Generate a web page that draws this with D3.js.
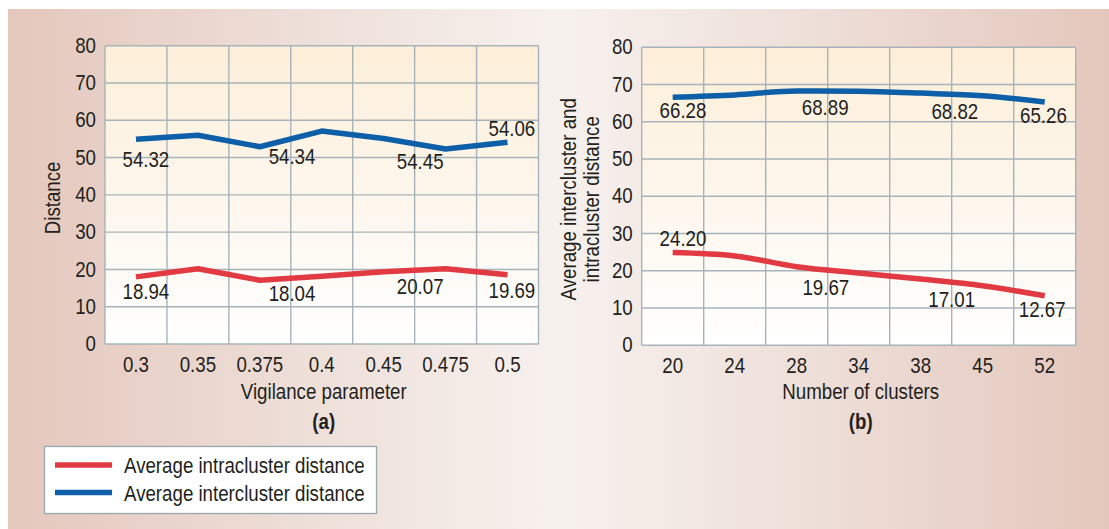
<!DOCTYPE html>
<html>
<head>
<meta charset="utf-8">
<script src="https://cdn.jsdelivr.net/npm/d3@7"></script>
<style>
  html, body { margin: 0; padding: 0; background: #ffffff; }
  svg { display: block; }
  text { font-family: "Liberation Sans", Arial, sans-serif; fill: #231f20; }
</style>
</head>
<body>
<svg id="chart" width="1109" height="529"></svg>
<script>
// ---------- data ----------
const categoriesA = ["0.3", "0.35", "0.375", "0.4", "0.45", "0.475", "0.5"];
const intraA = [18.0, 20.2, 17.1, 18.2, 19.4, 20.2, 18.6];
const interA = [54.9, 56.0, 52.9, 57.1, 55.1, 52.3, 54.1];

const categoriesB = ["20", "24", "28", "34", "38", "45", "52"];
const intraB = [24.9, 24.0, 21.1, 19.4, 17.8, 16.0, 13.3];
const interB = [66.6, 67.2, 68.3, 68.2, 67.7, 67.0, 65.3];

const yTicks = [0, 10, 20, 30, 40, 50, 60, 70, 80];

// value annotations printed on the chart
const labelsInterA = ["54.32", "54.34", "54.45", "54.06"];
const labelsIntraA = ["18.94", "18.04", "20.07", "19.69"];
const labelsInterB = ["66.28", "68.89", "68.82", "65.26"];
const labelsIntraB = ["24.20", "19.67", "17.01", "12.67"];

const seriesNames = ["Average intracluster distance", "Average intercluster distance"];

// ---------- layout (positions, not data) ----------
const annotSlotsA = { inter: [0.66, 3.02, 5.09, 6.57], intra: [0.66, 3.02, 5.09, 6.57] };
const annotLevelA = { inter: [47.55, 48.27, 46.85, 55.78], intra: [12.07, 11.53, 13.33, 12.26] };
const annotSlotsB = { inter: [0.666, 2.96, 5.05, 6.48], intra: [0.666, 2.97, 5.0, 6.46] };
const annotLevelB = { inter: [60.9, 61.8, 60.7, 59.6], intra: [26.7, 13.5, 10.4, 7.5] };

const RED = "#e23a43";
const BLUE = "#0d5fa8";
const GRID = "#a7b3ba";
const FS = 22;
const SX = 0.85; // horizontal condensing of the type

const svg = d3.select("#chart");
const defs = svg.append("defs");

const bg = defs.append("linearGradient").attr("id", "bgGrad")
  .attr("x1", "0").attr("y1", "0").attr("x2", "1").attr("y2", "0");
bg.append("stop").attr("offset", "0").attr("stop-color", "#e4c7bc");
bg.append("stop").attr("offset", "0.25").attr("stop-color", "#edddd6");
bg.append("stop").attr("offset", "0.5").attr("stop-color", "#f7f1ee");
bg.append("stop").attr("offset", "0.75").attr("stop-color", "#edddd6");
bg.append("stop").attr("offset", "1").attr("stop-color", "#e4c7bc");

const pg = defs.append("linearGradient").attr("id", "plotGrad")
  .attr("x1", "0").attr("y1", "0").attr("x2", "0").attr("y2", "1");
pg.append("stop").attr("offset", "0").attr("stop-color", "#fdefd9");
pg.append("stop").attr("offset", "0.55").attr("stop-color", "#fdf7ee");
pg.append("stop").attr("offset", "1").attr("stop-color", "#ffffff");

svg.append("rect").attr("x", 8).attr("y", 9).attr("width", 1101).attr("height", 520)
  .attr("fill", "url(#bgGrad)");

// place condensed text at (x, y) with optional rotation
function ctext(parent, x, y, str, opts = {}) {
  const rot = opts.rotate ? ` rotate(${opts.rotate})` : "";
  return parent.append("text")
    .attr("transform", `translate(${x},${y})${rot} scale(${SX},1)`)
    .attr("text-anchor", opts.anchor || "start")
    .attr("font-size", FS)
    .attr("font-weight", opts.bold ? "bold" : null)
    .text(str);
}

function panel(cfg) {
  const { left, right, top, bottom, cats, intra, inter, curve, annot } = cfg;
  const x = d3.scaleBand().domain(cats).range([left, right]).padding(0);
  const y = d3.scaleLinear().domain([0, 80]).range([bottom, top]);
  const slot = d3.scaleLinear().domain([0, cats.length]).range([left, right]);
  const g = svg.append("g");

  g.append("rect").attr("x", left).attr("y", top).attr("width", right - left).attr("height", bottom - top)
    .attr("fill", "url(#plotGrad)");

  // grid
  g.selectAll(".hg").data(yTicks).join("line")
    .attr("x1", left).attr("x2", right).attr("y1", d => y(d)).attr("y2", d => y(d))
    .attr("stroke", GRID).attr("stroke-width", 1.4);
  const vlines = d3.range(cats.length + 1);
  g.selectAll(".vg").data(vlines).join("line")
    .attr("x1", d => slot(d)).attr("x2", d => slot(d)).attr("y1", top).attr("y2", bottom)
    .attr("stroke", GRID).attr("stroke-width", 1.4);

  // y axis labels
  const ya = g.append("g").attr("transform", `translate(${left},0)`)
    .call(d3.axisLeft(y).tickValues(yTicks).tickSize(0).tickPadding(9));
  ya.select(".domain").remove();
  ya.selectAll("text").attr("font-size", FS).attr("font-family", null).attr("fill", "#231f20")
    .attr("dy", "0.3em").attr("x", -9 / SX).attr("transform", `scale(${SX},1)`);

  // x axis labels
  const xa = g.append("g").attr("transform", `translate(0,${bottom})`)
    .call(d3.axisBottom(x).tickSize(0).tickPadding(12));
  xa.select(".domain").remove();
  xa.selectAll("text").attr("font-size", FS).attr("font-family", null).attr("fill", "#231f20")
    .attr("dy", "0.71em").attr("transform", `scale(${SX},1)`);

  const line = d3.line().x((d, i) => x(cats[i]) + x.bandwidth() / 2).y(d => y(d)).curve(curve);
  g.append("path").datum(inter).attr("d", line).attr("fill", "none")
    .attr("stroke", BLUE).attr("stroke-width", 5.5).attr("stroke-linejoin", "round");
  g.append("path").datum(intra).attr("d", line).attr("fill", "none")
    .attr("stroke", RED).attr("stroke-width", 5.5).attr("stroke-linejoin", "round");

  const put = (labels, slots, levels) => {
    labels.forEach((t, i) => ctext(g, slot(slots[i]), y(levels[i]), t, { anchor: "middle" }));
  };
  put(annot.interLabels, annot.slots.inter, annot.levels.inter);
  put(annot.intraLabels, annot.slots.intra, annot.levels.intra);

  // x title and panel letter
  const cx = (left + right) / 2 + 2;
  ctext(g, cx, 399, cfg.xTitle, { anchor: "middle" });
  ctext(g, cx, 429, cfg.letter, { anchor: "middle", bold: true });

  // y title
  const cy = (top + bottom) / 2 + 3;
  cfg.yTitle.forEach((t, i) => ctext(g, cfg.yTitleX[i], cy, t, { anchor: "middle", rotate: -90 }));
}

panel({
  left: 105, right: 538.5, top: 45.7, bottom: 344,
  cats: categoriesA, intra: intraA, inter: interA, curve: d3.curveLinear,
  annot: { interLabels: labelsInterA, intraLabels: labelsIntraA, slots: annotSlotsA, levels: annotLevelA },
  xTitle: "Vigilance parameter", letter: "(a)",
  yTitle: ["Distance"], yTitleX: [60]
});

panel({
  left: 641.7, right: 1075.7, top: 47.3, bottom: 345.3,
  cats: categoriesB, intra: intraB, inter: interB, curve: d3.curveMonotoneX,
  annot: { interLabels: labelsInterB, intraLabels: labelsIntraB, slots: annotSlotsB, levels: annotLevelB },
  xTitle: "Number of clusters", letter: "(b)",
  yTitle: ["Average intercluster and", "intracluster distance"], yTitleX: [576, 599]
});

// legend
const lg = svg.append("g");
lg.append("rect").attr("x", 44.5).attr("y", 446.5).attr("width", 332).attr("height", 67)
  .attr("fill", "#ffffff").attr("stroke", "#98a6ae").attr("stroke-width", 1.3);
const legendColors = [RED, BLUE];
lg.selectAll(".li").data(seriesNames).join("line")
  .attr("x1", 55).attr("x2", 112).attr("y1", (d, i) => 465 + i * 27.5).attr("y2", (d, i) => 465 + i * 27.5)
  .attr("stroke", (d, i) => legendColors[i]).attr("stroke-width", 5.5);
seriesNames.forEach((name, i) => ctext(lg, 124, 473 + i * 27.5, name));
</script>
</body>
</html>
